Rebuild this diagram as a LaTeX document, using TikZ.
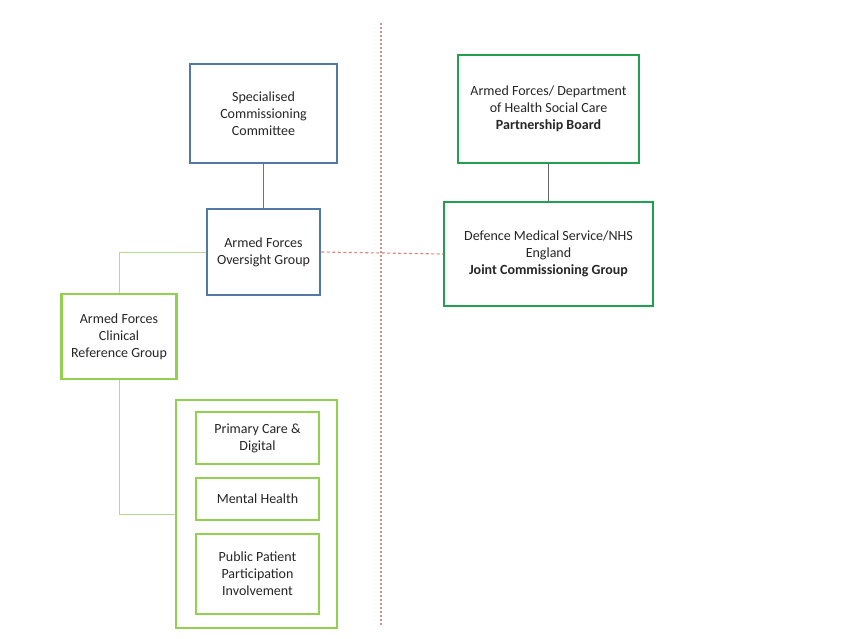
\documentclass[tikz,border=0pt]{standalone}
\usepackage{fontspec}
\setmainfont{Carlito}
\definecolor{bblue}{HTML}{5279A5}
\definecolor{dgreen}{HTML}{22A050}
\definecolor{lgreen}{HTML}{92D050}
\definecolor{pgreen}{HTML}{B5D98F}
\definecolor{rdash}{HTML}{D08A7C}
\definecolor{vdash}{HTML}{C4948A}
\begin{document}
\begin{tikzpicture}[x=1pt,y=-1pt,
  box/.style={draw,line width=2.5pt,align=center,inner sep=2pt,
    font=\fontsize{14}{17}\selectfont,text=black!85},
  bluebox/.style={box,draw=bblue},
  dgbox/.style={box,draw=dgreen},
  lgbox/.style={box,draw=lgreen},
  conn/.style={line width=0.9pt},
  reddash/.style={draw=rdash,line width=1.1pt,dash pattern=on 3pt off 2.5pt},
  vdashline/.style={draw=vdash,line width=1.3pt,dash pattern=on 2pt off 2pt}]
\useasboundingbox (0,0) rectangle (850,638);
\fill[white] (0,0) rectangle (850,638);
\node[bluebox,minimum width=147pt,minimum height=99pt] (spec) at (263.5,113.5) {Specialised\\Commissioning\\Committee};
\node[bluebox,minimum width=113pt,minimum height=86pt] (over) at (263.5,252) {Armed Forces\\Oversight Group};
\node[lgbox,minimum width=115pt,minimum height=85pt] (clin) at (119,336.5) {Armed Forces\\Clinical\\Reference Group};
\node[lgbox,minimum width=161pt,minimum height=228pt] (cont) at (256.5,514) {};
\node[lgbox,minimum width=123pt,minimum height=52pt] (prim) at (257.5,438) {Primary Care \&\\Digital};
\node[lgbox,minimum width=123pt,minimum height=42pt] (ment) at (257.5,499) {Mental Health};
\node[lgbox,minimum width=123pt,minimum height=80pt] (pub) at (257.5,574) {Public Patient\\Participation\\Involvement};
\node[dgbox,minimum width=181pt,minimum height=108pt] (part) at (548.5,109) {Armed Forces/ Department\\of Health Social Care\\\textbf{Partnership Board}};
\node[dgbox,minimum width=209pt,minimum height=104pt] (joint) at (548.5,254) {Defence Medical Service/NHS\\England\\\textbf{Joint Commissioning Group}};
\coordinate (vtop) at (381,23);
\coordinate (vbot) at (381,626);
\draw[vdashline] (vtop) -- (vbot);
\draw[conn,draw=bblue] (spec.south) -- (over.north);
\draw[conn,draw=gray!80!black] (part.south) -- (joint.north);
\draw[conn,draw=pgreen] (over.west) -| (clin.north);
\draw[conn,draw=pgreen] (clin.south) |- (cont.west);
\draw[reddash] (over.east) -- (joint.west);
\end{tikzpicture}
\end{document}
